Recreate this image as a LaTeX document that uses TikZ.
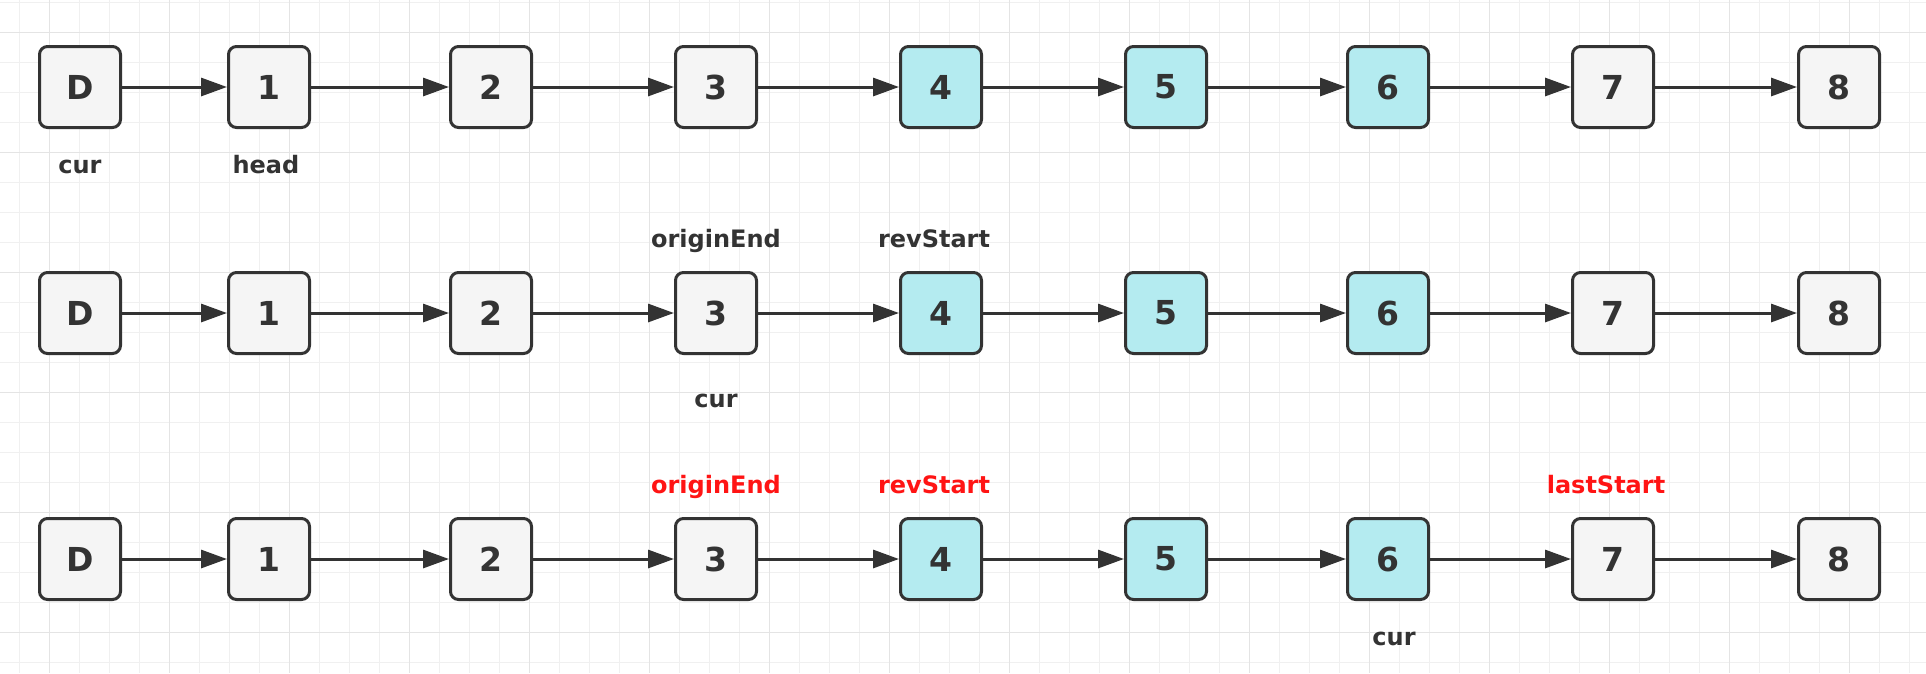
\documentclass[tikz,border=0pt]{standalone}
\usepackage{fontspec}
\setmainfont{DejaVu Sans}
\usetikzlibrary{arrows.meta}
\definecolor{ink}{HTML}{333333}
\definecolor{boxgray}{HTML}{F5F5F5}
\definecolor{boxcyan}{HTML}{B4EBF0}
\definecolor{gridminor}{HTML}{F0F0F0}
\definecolor{gridmajor}{HTML}{E4E4E4}
\definecolor{redtxt}{HTML}{FF1414}
\tikzset{
  listbox/.style={draw=ink, line width=3pt, fill=boxgray, rounded corners=8pt,
    minimum width=81pt, minimum height=81pt, inner sep=0pt, text=ink,
    font=\fontsize{33}{36}\selectfont\bfseries},
  hot/.style={listbox, fill=boxcyan},
  link/.style={draw=ink, line width=3pt, -{Triangle[length=26pt,width=18pt]}},
  lbl/.style={anchor=base, inner sep=0pt, text=ink, font=\fontsize{24}{27}\selectfont\bfseries},
  redlbl/.style={lbl, text=redtxt},
  minorline/.style={draw=gridminor, line width=1pt},
  majorline/.style={draw=gridmajor, line width=1.3pt}
}
\begin{document}
\begin{tikzpicture}[x=1pt,y=-1pt]
\useasboundingbox (0,0) rectangle (1926,673);
\fill[white] (0,0) rectangle (1926,673);
% grid
\foreach \i in {0,...,64} {\draw[minorline] ({19.3+30*\i},0) -- ++(0,673);}
\foreach \i in {0,...,22} {\draw[minorline] (0,{2.7+30*\i}) -- ++(1926,0);}
\foreach \i in {0,...,15} {\draw[majorline] ({49.3+120*\i},0) -- ++(0,673);}
\foreach \i in {0,...,5} {\draw[majorline] (0,{32.7+120*\i}) -- ++(1926,0);}
% rows
\foreach \r/\y in {a/87,b/313,c/559} {
  \node[listbox] (\r0) at (80,\y) {D};
  \node[listbox] (\r1) at (269,\y) {1};
  \node[listbox] (\r2) at (491,\y) {2};
  \node[listbox] (\r3) at (716,\y) {3};
  \node[hot] (\r4) at (941,\y) {4};
  \node[hot] (\r5) at (1166,\y) {5};
  \node[hot] (\r6) at (1388,\y) {6};
  \node[listbox] (\r7) at (1613,\y) {7};
  \node[listbox] (\r8) at (1839,\y) {8};
  \foreach \p/\q in {0/1,1/2,2/3,3/4,4/5,5/6,6/7,7/8} {
    \draw[link] (\r\p.east) -- (\r\q.west);
  }
}
% labels row 1
\node[lbl] (acur) at (80,173) {cur};
\node[lbl] (ahead) at (266,173) {head};
% labels row 2
\node[lbl] (borig) at (716,247) {originEnd};
\node[lbl] (brev) at (934,247) {revStart};
\node[lbl] (bcur) at (716,407) {cur};
% labels row 3
\node[redlbl] (corig) at (716,493) {originEnd};
\node[redlbl] (crev) at (934,493) {revStart};
\node[redlbl] (clast) at (1606,493) {lastStart};
\node[lbl] (ccur) at (1394,645) {cur};
\end{tikzpicture}
\end{document}
